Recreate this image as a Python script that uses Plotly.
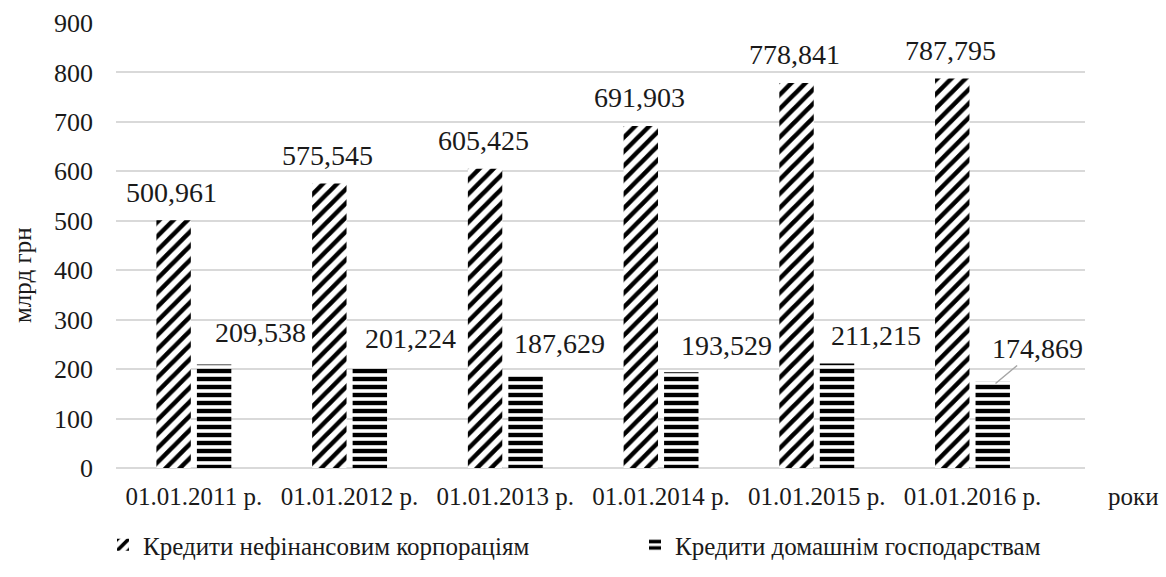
import plotly.graph_objects as go

categories = ["01.01.2011 р.", "01.01.2012 р.", "01.01.2013 р.", "01.01.2014 р.", "01.01.2015 р.", "01.01.2016 р."]
corp_values = [500.961, 575.545, 605.425, 691.903, 778.841, 787.795]
house_values = [209.538, 201.224, 187.629, 193.529, 211.215, 174.869]
corp_labels = ["500,961", "575,545", "605,425", "691,903", "778,841", "787,795"]
house_labels = ["209,538", "201,224", "187,629", "193,529", "211,215", "174,869"]
series_names = ["Кредити нефінансовим корпораціям", "Кредити домашнім господарствам"]
y_ticks = [0, 100, 200, 300, 400, 500, 600, 700, 800, 900]

# label placement styling (pixel offsets)
house_dx = [44, 38, 31, 42, 36, 42]
house_dy = [32, 30, 32, 27, 28, 35]

FONT = "'Times New Roman', 'Liberation Serif', serif"
W, H = 1166, 577
L, R, T, B = 116, 81, 23, 109
PW, PH = W - L - R, H - T - B
TXT = "#1a1a1a"

fig = go.Figure()
fig.add_trace(go.Bar(
    x=categories, y=corp_values, name=series_names[0], legend="legend",
    marker=dict(color="white", line=dict(width=0),
                pattern=dict(shape="/", fgcolor="black", bgcolor="white", size=10, solidity=0.45, fillmode="replace")),
))
fig.add_trace(go.Bar(
    x=categories, y=house_values, name=series_names[1], legend="legend2",
    marker=dict(color="white", line=dict(width=0),
                pattern=dict(shape="-", fgcolor="black", bgcolor="white", size=8, solidity=0.55, fillmode="replace")),
))

annotations = []
for i, c in enumerate(categories):
    annotations.append(dict(x=c, y=corp_values[i], xref="x", yref="y", text=corp_labels[i],
                            showarrow=False, xshift=-22, yshift=28, yanchor="middle",
                            font=dict(family=FONT, size=28, color=TXT)))
    if i == len(categories) - 1:
        annotations.append(dict(x=c, y=house_values[i], xref="x", yref="y", text=house_labels[i],
                                showarrow=True, arrowhead=0, arrowwidth=1.5, arrowcolor="#a6a6a6",
                                ax=house_dx[i], ay=-house_dy[i], xshift=23, yshift=-2,
                                font=dict(family=FONT, size=28, color=TXT)))
    else:
        annotations.append(dict(x=c, y=house_values[i], xref="x", yref="y", text=house_labels[i],
                                showarrow=False, xshift=23 + house_dx[i], yshift=house_dy[i], yanchor="middle",
                                font=dict(family=FONT, size=28, color=TXT)))

annotations.append(dict(xref="paper", yref="paper", x=(22 - L) / PW, y=(H - B - 275) / PH,
                        text="млрд грн", textangle=-90, showarrow=False, xanchor="center", yanchor="middle",
                        font=dict(family=FONT, size=25, color=TXT)))
annotations.append(dict(xref="paper", yref="paper", x=(1133 - L) / PW, y=(H - B - 496) / PH,
                        text="роки", showarrow=False, xanchor="center", yanchor="middle",
                        font=dict(family=FONT, size=25, color=TXT)))

legend_common = dict(orientation="h", xanchor="left", yanchor="middle", y=(H - B - 545) / PH,
                     bgcolor="rgba(0,0,0,0)", font=dict(family=FONT, size=25, color=TXT))

fig.update_layout(
    width=W, height=H,
    margin=dict(l=L, r=R, t=T, b=B, autoexpand=False),
    plot_bgcolor="white", paper_bgcolor="white",
    barmode="group", bargap=0.48, bargroupgap=0.15,
    font=dict(family=FONT, size=25, color=TXT),
    showlegend=True,
    legend=dict(x=(103 - L) / PW, **legend_common),
    legend2=dict(x=(635 - L) / PW, **legend_common),
    annotations=annotations,
)
fig.update_yaxes(range=[0, 900], tickvals=y_ticks, showgrid=True, gridcolor="#d9d9d9", gridwidth=1.5,
                 zeroline=True, zerolinecolor="#d9d9d9", zerolinewidth=1.5, showline=False,
                 ticks="", ticklabelstandoff=22, tickfont=dict(family=FONT, size=26))
fig.update_xaxes(showgrid=False, showline=False, ticks="", ticklabelstandoff=11,
                 tickfont=dict(family=FONT, size=25))

fig.write_html("out.html", config={"displayModeBar": False},
               post_script="document.body.style.margin='0';document.body.style.overflow='hidden';")
